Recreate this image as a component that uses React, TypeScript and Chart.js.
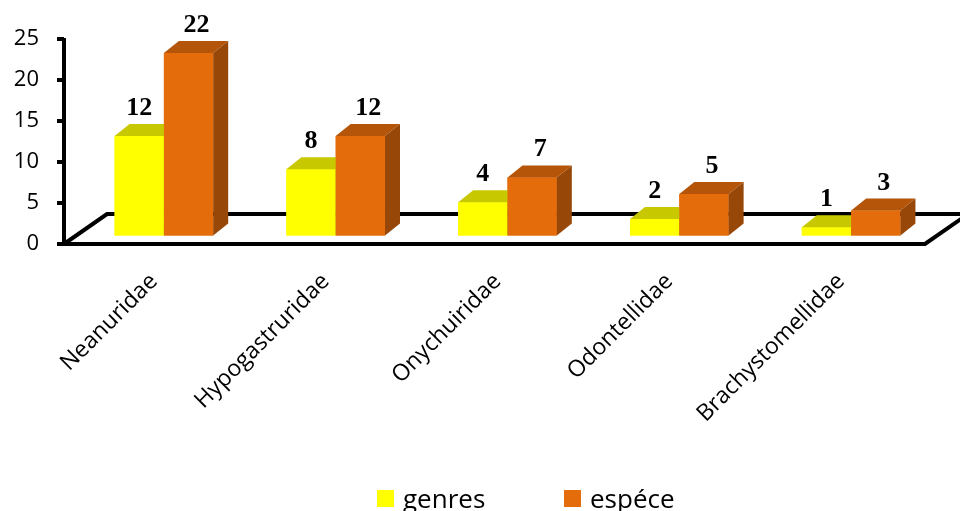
import React, { useEffect, useRef } from 'react';
import { Chart, registerables } from 'chart.js';

Chart.register(...registerables);

const categories = ['Neanuridae', 'Hypogastruridae', 'Onychuiridae', 'Odontellidae', 'Brachystomellidae'];
const genres = [12, 8, 4, 2, 1];
const especes = [22, 12, 7, 5, 3];
const seriesLabels = ['genres', 'espéce'];
const yTickStep = 5;
const yMax = 25;

const YELLOW = '#FFFF00';
const YELLOW_TOP = '#C8C800';
const YELLOW_SIDE = '#A3A300';
const ORANGE = '#E46C0A';
const ORANGE_TOP = '#B45509';
const ORANGE_SIDE = '#974708';
const DEPTH_X = 15;
const DEPTH_Y = 12;

const topColors = [YELLOW_TOP, ORANGE_TOP];
const sideColors = [YELLOW_SIDE, ORANGE_SIDE];
const fillColors = [YELLOW, ORANGE];

const floorPlugin = {
  id: 'floor3d',
  beforeDatasetsDraw(chart: any) {
    const { ctx, chartArea, scales } = chart;
    const y = scales.y;
    const frontY = y.getPixelForValue(0);
    const backY = frontY - 30;
    const left = chartArea.left - 14;
    const right = chartArea.right - 12;
    ctx.save();
    ctx.strokeStyle = '#000';
    ctx.lineWidth = 4;
    ctx.lineJoin = 'miter';
    ctx.beginPath();
    ctx.moveTo(left, frontY);
    ctx.lineTo(left + 43, backY);
    ctx.lineTo(right + 43, backY);
    ctx.lineTo(right, frontY);
    ctx.closePath();
    ctx.stroke();
    ctx.beginPath();
    ctx.moveTo(left, chartArea.top - 1);
    ctx.lineTo(left, frontY + 2);
    ctx.stroke();
    for (let v = 0; v <= yMax; v += yTickStep) {
      const py = y.getPixelForValue(v);
      ctx.beginPath();
      ctx.moveTo(left - 7, py);
      ctx.lineTo(left, py);
      ctx.stroke();
    }
    ctx.restore();
  },
  afterDatasetsDraw(chart: any) {
    const { ctx } = chart;
    ctx.save();
    const n = chart.data.labels.length;
    for (let j = 0; j < n; j++) {
      chart.data.datasets.forEach((_ds: any, i: number) => {
        const bar = chart.getDatasetMeta(i).data[j];
        const { x, y, base, width } = bar.getProps(['x', 'y', 'base', 'width'], true);
        const l = x - width / 2;
        const r = x + width / 2;
        ctx.fillStyle = fillColors[i];
        ctx.fillRect(l, y, width, base - y);
        ctx.fillStyle = topColors[i];
        ctx.beginPath();
        ctx.moveTo(l, y);
        ctx.lineTo(l + DEPTH_X, y - DEPTH_Y);
        ctx.lineTo(r + DEPTH_X, y - DEPTH_Y);
        ctx.lineTo(r, y);
        ctx.closePath();
        ctx.fill();
        ctx.fillStyle = sideColors[i];
        ctx.beginPath();
        ctx.moveTo(r, y);
        ctx.lineTo(r + DEPTH_X, y - DEPTH_Y);
        ctx.lineTo(r + DEPTH_X, base - DEPTH_Y);
        ctx.lineTo(r, base);
        ctx.closePath();
        ctx.fill();
      });
    }
    ctx.fillStyle = '#000';
    ctx.font = 'bold 26px "Liberation Serif", "Times New Roman", serif';
    ctx.textAlign = 'center';
    ctx.textBaseline = 'alphabetic';
    chart.data.datasets.forEach((ds: any, i: number) => {
      const meta = chart.getDatasetMeta(i);
      meta.data.forEach((bar: any, j: number) => {
        const { x, y } = bar.getProps(['x', 'y'], true);
        const dx = i === 0 ? 0 : 8;
        ctx.fillText(String(ds.data[j]), x + dx, y - DEPTH_Y - 9);
      });
    });
    ctx.restore();
  },
  afterDraw(chart: any) {
    const { ctx, width, height } = chart;
    ctx.save();
    ctx.font = '26px "Open Sans", sans-serif';
    ctx.textBaseline = 'alphabetic';
    ctx.textAlign = 'left';
    const starts = [width * 0.3927, width * 0.5875];
    chart.data.datasets.forEach((ds: any, i: number) => {
      const x = starts[i];
      ctx.fillStyle = fillColors[i];
      ctx.fillRect(x, height - 21, 17, 17);
      ctx.fillStyle = '#000';
      ctx.fillText(ds.label, x + 26, height - 3);
    });
    ctx.restore();
  },
};

export default function App() {
  const canvasRef = useRef<HTMLCanvasElement>(null);

  useEffect(() => {
    if (!canvasRef.current) return;
    const chart = new Chart(canvasRef.current, {
      type: 'bar',
      data: {
        labels: categories,
        datasets: [
          {
            label: seriesLabels[0],
            data: genres,
            backgroundColor: YELLOW,
            yAxisID: 'y2',
            barPercentage: 1,
            categoryPercentage: 0.574,
          },
          {
            label: seriesLabels[1],
            data: especes,
            backgroundColor: ORANGE,
            yAxisID: 'y2',
            barPercentage: 1,
            categoryPercentage: 0.574,
          },
        ],
      },
      options: {
        animation: false,
        responsive: true,
        maintainAspectRatio: false,
        layout: { padding: { top: 39, right: 23, left: 0, bottom: 0 } },
        plugins: {
          legend: { display: false },
          tooltip: { enabled: false },
        },
        scales: {
          x: {
            grid: { display: false, drawTicks: false },
            border: { display: false },
            ticks: {
              autoSkip: false,
              maxRotation: 45,
              minRotation: 45,
              color: '#000',
              padding: 24,
              labelOffset: -10,
              font: { family: '"Open Sans", sans-serif', size: 23 },
            },
            afterFit: (s: any) => {
              s.height = 267;
            },
          },
          y: {
            position: 'left',
            min: 0,
            max: yMax,
            grid: { display: false, drawTicks: true, tickLength: 36 },
            border: { display: false },
            ticks: {
              stepSize: yTickStep,
              color: '#000',
              padding: 3,
              font: { family: '"Open Sans", sans-serif', size: 22 },
            },
            afterFit: (s: any) => {
              s.width = 78;
            },
          },
          y2: {
            display: false,
            min: -1.03,
            max: 23.7,
          },
        },
      },
      plugins: [floorPlugin],
    });
    return () => chart.destroy();
  }, []);

  return (
    <div style={{ position: 'fixed', left: 0, top: 0, width: 960, height: 511, background: '#fff' }}>
      <canvas ref={canvasRef} />
    </div>
  );
}
